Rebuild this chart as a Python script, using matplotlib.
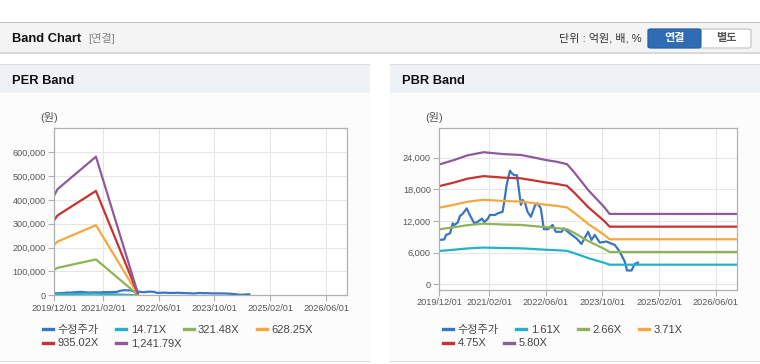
import numpy as np
import matplotlib
matplotlib.use('Agg')
import matplotlib.pyplot as plt
import matplotlib.dates as mdates
from matplotlib.patches import Rectangle, FancyBboxPatch
from matplotlib.ticker import FuncFormatter

plt.rcParams['font.family'] = ['Liberation Sans', 'Noto Sans CJK KR']

W, H = 760, 364

# adjusted close price (수정주가)
price_dates = ['2019-12-01', '2020-01-13', '2020-01-27', '2020-03-02', '2020-03-25', '2020-04-08',
               '2020-05-07', '2020-05-26', '2020-06-18', '2020-07-23', '2020-08-14', '2020-09-26',
               '2020-10-25', '2020-12-01', '2020-12-21', '2021-01-19', '2021-02-07', '2021-03-25',
               '2021-04-14', '2021-05-27', '2021-06-10', '2021-07-01', '2021-07-29', '2021-08-15',
               '2021-09-04', '2021-09-27', '2021-10-11', '2021-10-31', '2021-11-15', '2021-12-07',
               '2021-12-27', '2022-01-25', '2022-03-03', '2022-03-23', '2022-04-20', '2022-05-16',
               '2022-06-22', '2022-07-30', '2022-08-27', '2022-10-15', '2022-11-04', '2022-12-25',
               '2023-02-20', '2023-04-04', '2023-05-31', '2023-06-29', '2023-07-27', '2023-09-08',
               '2023-11-04', '2024-01-15', '2024-02-26', '2024-04-09', '2024-04-29', '2024-06-06',
               '2024-07-04', '2024-08-01']
price = [8400, 8500, 9350, 9650, 11550, 11250,
         11700, 12950, 13350, 14400, 13350, 11550,
         11850, 12450, 11800, 12400, 13150, 13150,
         13450, 13750, 15650, 18850, 21550, 21050,
         20700, 20700, 18500, 15050, 16000, 15350,
         13750, 12800, 15050, 15350, 14400, 10450,
         10450, 11250, 9950, 9950, 10600, 9650,
         8700, 7650, 9950, 8400, 9350, 7900,
         8100, 7450, 6200, 4300, 2600, 2600,
         3850, 4100]

# PER band
per_dates = ['2019-12-01', '2020-01-01', '2020-03-01', '2020-06-01', '2020-09-01', '2020-12-01',
             '2021-12-01']
per_labels = ['14.71X', '321.48X', '628.25X', '935.02X', '1,241.79X']
per_1471 = [4940, 5270, 5560, 6000, 6440, 6880, 120]
per_32148 = [108000, 115100, 121500, 131200, 140800, 150500, 2600]
per_62825 = [211100, 224900, 237500, 256300, 275200, 294000, 5000]
per_93502 = [314200, 334700, 353400, 381500, 409500, 437600, 7500]
per_124179 = [417200, 444600, 469400, 506700, 543900, 581200, 9900]

# PBR band
pbr_dates = ['2019-12-01', '2020-04-01', '2020-08-01', '2020-12-15', '2021-06-01', '2021-11-01',
             '2022-03-01', '2022-06-01', '2022-09-01', '2022-12-01', '2023-02-01', '2023-06-01',
             '2023-10-15', '2023-12-01', '2026-12-01']
pbr_labels = ['1.61X', '2.66X', '3.71X', '4.75X', '5.80X']
pbr_161 = [6311, 6537, 6794, 6955, 6859, 6810, 6665, 6545, 6456, 6327, 5893, 4959, 4073, 3703, 3703]
pbr_266 = [10427, 10800, 11225, 11491, 11332, 11252, 11012, 10813, 10667, 10454, 9736, 8193, 6730, 6118, 6118]
pbr_371 = [14543, 15063, 15656, 16027, 15805, 15693, 15359, 15081, 14877, 14580, 13579, 11427, 9386, 8533, 8533]
pbr_475 = [18620, 19285, 20045, 20520, 20235, 20093, 19665, 19309, 19048, 18668, 17385, 14630, 12018, 10925, 10925]
pbr_580 = [22736, 23548, 24476, 25056, 24708, 24534, 24012, 23577, 23258, 22794, 21228, 17864, 14674, 13340, 13340]

colors = ['#3a75c2', '#22b3c8', '#8fb356', '#f6a83c', '#c8332f', '#8d5a9c']
xtick_dates = ['2019-12-01', '2021-02-01', '2022-06-01', '2023-10-01', '2025-02-01', '2026-06-01']
per_yticks = [0, 100000, 200000, 300000, 400000, 500000, 600000]
pbr_yticks = [0, 6000, 12000, 18000, 24000]


def d(lst):
    return np.array(lst, dtype='datetime64[D]')


def box(x, y, w, h, **kw):
    fig.add_artist(Rectangle((x / W, 1 - (y + h) / H), w / W, h / H,
                             transform=fig.transFigure, zorder=-2, **kw))


def label(x, y, s, **kw):
    fig.text(x / W, 1 - y / H, s, va='center', **kw)


fig = plt.figure(figsize=(7.6, 3.64), dpi=100)
fig.patch.set_facecolor('white')

# top header bar
box(0, 22, 760, 31, facecolor='#f4f4f4', edgecolor='none')
box(0, 22, 760, 1, facecolor='#c4c4c4', edgecolor='none')
box(0, 52, 760, 1.5, facecolor='#d8d8d8', edgecolor='none')
label(12, 38.7, 'Band Chart', fontsize=9.3, fontweight='bold', color='#111')
label(88, 38.7, '[연결]', fontsize=8, color='#888')
label(642, 38.7, '단위 : 억원, 배, %', fontsize=8, color='#333', ha='right')
fig.add_artist(FancyBboxPatch((648 / W, 1 - 48 / H), 103 / W, 19 / H,
                              boxstyle='round,pad=0,rounding_size=0.004',
                              transform=fig.transFigure, facecolor='white',
                              edgecolor='#c0c0c0', lw=0.8))
fig.add_artist(FancyBboxPatch((648 / W, 1 - 48 / H), 53 / W, 19 / H,
                              boxstyle='round,pad=0,rounding_size=0.004',
                              transform=fig.transFigure, facecolor='#2f6cb4',
                              edgecolor='#2a5f9f', lw=0.8))
label(674.5, 38.5, '연결', fontsize=8, fontweight='bold', color='white', ha='center')
label(726, 38.5, '별도', fontsize=8, fontweight='bold', color='#555', ha='center')

# panels
for px0, title in [(0, 'PER Band'), (390, 'PBR Band')]:
    box(px0, 64, 370, 298, facecolor='#fcfcfc', edgecolor='none')
    box(px0, 64, 370, 29, facecolor='#eef2f7', edgecolor='none')
    box(px0, 64, 370, 1, facecolor='#dcdcdc', edgecolor='none')
    box(px0, 361, 370, 1.2, facecolor='#dcdcdc', edgecolor='none')
    label(px0 + 12, 80.7, title, fontsize=9.3, fontweight='bold', color='#111')

label(49, 118, '(원)', fontsize=8, color='#555', ha='center')
label(434, 118, '(원)', fontsize=8, color='#555', ha='center')

ax1 = fig.add_axes([54 / W, 1 - 295.3 / H, 293 / W, 167 / H])
ax2 = fig.add_axes([439.3 / W, 1 - 290 / H, 298 / W, 161.7 / H])

lines1 = [ax1.plot(d(price_dates), price, color=colors[0], lw=1.6, label='수정주가')[0]]
for vals, lab, c in zip([per_1471, per_32148, per_62825, per_93502, per_124179], per_labels, colors[1:]):
    lines1.append(ax1.plot(d(per_dates), vals, color=c, lw=1.6, label=lab)[0])

lines2 = [ax2.plot(d(price_dates), price, color=colors[0], lw=1.6, label='수정주가')[0]]
for vals, lab, c in zip([pbr_161, pbr_266, pbr_371, pbr_475, pbr_580], pbr_labels, colors[1:]):
    lines2.append(ax2.plot(d(pbr_dates), vals, color=c, lw=1.6, label=lab)[0])

ax1.set_ylim(0, 700000)
ax1.set_yticks(per_yticks)
ax2.set_ylim(-1100, 29600)
ax2.set_yticks(pbr_yticks)

for ax in (ax1, ax2):
    ax.set_facecolor('white')
    ax.set_xlim(np.datetime64('2019-12-01'), np.datetime64('2026-12-01'))
    ax.set_xticks(d(xtick_dates))
    ax.xaxis.set_major_formatter(mdates.DateFormatter('%Y/%m/%d'))
    ax.yaxis.set_major_formatter(FuncFormatter(lambda v, p: f'{int(v):,}'))
    ax.grid(True, color='#e6e6e6', lw=0.8)
    ax.set_axisbelow(True)
    for s in ax.spines.values():
        s.set_color('#b0b0b0')
        s.set_linewidth(0.9)
    ax.tick_params(axis='both', length=4, width=0.8, color='#b0b0b0',
                   labelsize=6.6, labelcolor='#555', pad=2)

# legends, flow layout in two rows
leg_kw = dict(frameon=False, fontsize=8, handlelength=0.9, handletextpad=0.4,
              columnspacing=1.6, borderpad=0, borderaxespad=0, loc='center left',
              labelcolor='#444')
for lines, x0 in [(lines1, 43), (lines2, 443)]:
    l1 = fig.legend(lines[:4], [l.get_label() for l in lines[:4]], ncol=4,
                    bbox_to_anchor=(x0 / W, 1 - 330 / H), **leg_kw)
    l2 = fig.legend(lines[4:], [l.get_label() for l in lines[4:]], ncol=2,
                    bbox_to_anchor=(x0 / W, 1 - 343.5 / H), **leg_kw)
    for leg in (l1, l2):
        for h in leg.legend_handles:
            h.set_linewidth(2.4)

fig.savefig('out.png', dpi=100)
